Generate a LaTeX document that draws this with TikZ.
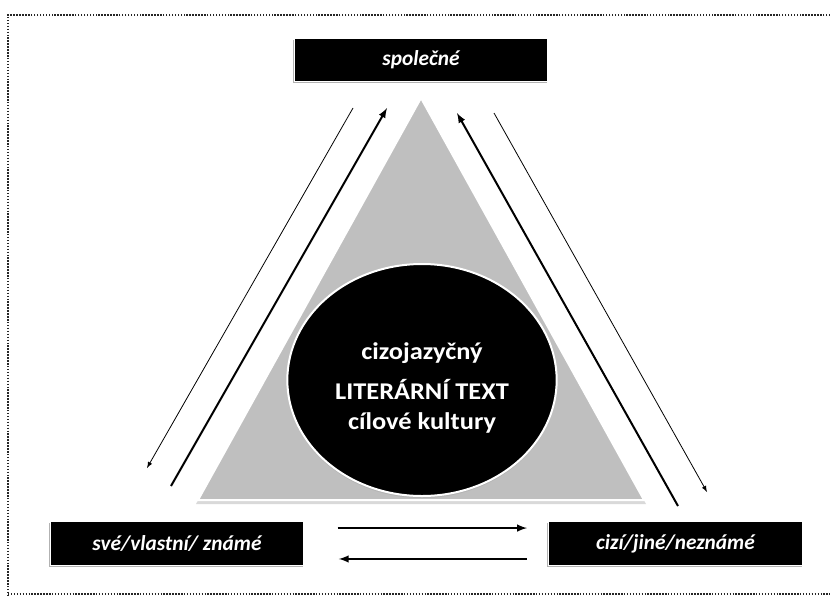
\documentclass[tikz,border=0pt]{standalone}
\usepackage{fontspec}
\setmainfont{Carlito}
\newfontfamily\widefont[FakeStretch=1.1]{Carlito}
\usetikzlibrary{shapes.geometric,shadows}

\begin{document}
\begin{tikzpicture}
[
	x=0.75pt,
	y=-0.75pt,
	namebox/.style={rectangle,fill=black,draw=white,line width=0.8pt,text=white,inner sep=0pt,
		minimum width=190pt,minimum height=32.5pt,
		font=\bfseries\itshape\fontsize{16}{18}\selectfont,
		drop shadow={shadow xshift=-0.8pt,shadow yshift=-1.2pt,fill=black!30,opacity=1}},
	thinarr/.style={->,>=latex,line width=0.6pt},
	thickarr/.style={->,>=latex,line width=1.5pt}
]

	\useasboundingbox (0,0) rectangle (830,596);

	% dotted frame
	\draw[black!85,line width=1.3pt,dash pattern=on 1.1pt off 1.1pt] (845,15) -- (8,15) -- (8,610);
	\draw[black!85,line width=1.3pt,dash pattern=on 1.1pt off 1.1pt] (8,594) -- (845,594);

	% triangle with its shadow
	\fill[black!15] (421,101) -- (646,504) -- (196,504) -- cycle;
	\filldraw[fill=black!25,draw=white,line width=1.5pt] (421,98) -- (644,500) -- (198,500) -- cycle;

	% the three boxes
	\node[namebox] at (421,60) (spol) {společné};
	\node[namebox] at (177,543.5) (sve) {své/vlastní/ známé};
	\node[namebox,minimum width=191pt] at (675.5,543.5) (cizi) {cizí/jiné/neznámé};

	% centre
	\node[ellipse,fill=black,draw=white,line width=1.5pt,inner sep=0pt,
		minimum width=202pt,minimum height=174pt,
		drop shadow={shadow xshift=0pt,shadow yshift=-1.5pt,fill=black!30,opacity=1}]
		at (422,380) (lit) {};
	\node[text=white,align=center,font=\widefont\bfseries\fontsize{18}{23}\selectfont]
		at (422,388) (littext) {cizojazyčný\\[7pt]LITERÁRNÍ TEXT\\cílové kultury};

	% arrows along the sides
	\coordinate (l1) at (353,108);
	\coordinate (l2) at (147,468);
	\coordinate (l3) at (171,486);
	\coordinate (l4) at (387,108);
	\draw[thinarr] (l1) -- (l2);
	\draw[thickarr] (l3) -- (l4);

	\coordinate (r1) at (678,506);
	\coordinate (r2) at (457,113);
	\coordinate (r3) at (494,113);
	\coordinate (r4) at (707,492);
	\draw[thickarr] (r1) -- (r2);
	\draw[thinarr] (r3) -- (r4);

	% arrows between the lower boxes
	\draw[thickarr,shorten <=25pt,shorten >=15.5pt] ([yshift=11.6pt]sve.east) -- ([yshift=11.6pt]cizi.west);
	\draw[thickarr,shorten <=15.5pt,shorten >=26pt] ([yshift=-11.6pt]cizi.west) -- ([yshift=-11.6pt]sve.east);

\end{tikzpicture}
\end{document}
